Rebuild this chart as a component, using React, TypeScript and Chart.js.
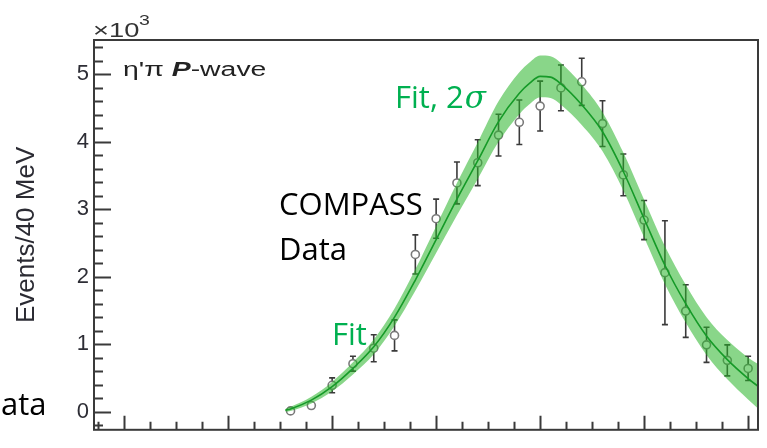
import React, { useEffect, useRef } from "react";
import { Chart, registerables } from "chart.js";

Chart.register(...registerables);

// eta' pi P-wave, COMPASS data (x in GeV, y in units of 10^3 events / 40 MeV)
const massBins = [1.12, 1.16, 1.2, 1.24, 1.28, 1.32, 1.36, 1.4, 1.44, 1.48, 1.52, 1.56, 1.6, 1.64, 1.68, 1.72, 1.76, 1.8, 1.84, 1.88, 1.92, 1.96, 2.0];
const counts = [0.01, 0.09, 0.39, 0.71, 0.94, 1.13, 2.33, 2.86, 3.39, 3.69, 4.1, 4.29, 4.53, 4.8, 4.89, 4.27, 3.51, 2.84, 2.06, 1.49, 0.99, 0.76, 0.64];
const countErrors = [0.03, 0.04, 0.11, 0.11, 0.2, 0.23, 0.29, 0.29, 0.31, 0.34, 0.31, 0.33, 0.37, 0.34, 0.35, 0.34, 0.31, 0.29, 0.77, 0.39, 0.26, 0.23, 0.18];

// fit curve and its 2 sigma band
const fitMass = [1.11, 1.12, 1.16, 1.2, 1.24, 1.28, 1.32, 1.36, 1.4, 1.44, 1.48, 1.52, 1.56, 1.58, 1.6, 1.62, 1.64, 1.68, 1.72, 1.76, 1.8, 1.84, 1.88, 1.92, 1.96, 2.0, 2.02];
const fitValue = [0.02, 0.04, 0.17, 0.37, 0.64, 0.96, 1.4, 1.95, 2.55, 3.15, 3.72, 4.3, 4.72, 4.87, 4.97, 4.96, 4.86, 4.55, 4.15, 3.56, 2.86, 2.17, 1.6, 1.12, 0.77, 0.49, 0.37];
const fitBand = [0.02, 0.03, 0.05, 0.07, 0.09, 0.11, 0.13, 0.16, 0.2, 0.24, 0.27, 0.3, 0.31, 0.31, 0.31, 0.31, 0.31, 0.3, 0.29, 0.28, 0.28, 0.28, 0.28, 0.28, 0.29, 0.31, 0.33];

// axes
const yTickValues = [0, 1, 2, 3, 4, 5];
const yMinorTicks = [-0.2, 0.2, 0.4, 0.6, 0.8, 1.2, 1.4, 1.6, 1.8, 2.2, 2.4, 2.6, 2.8, 3.2, 3.4, 3.6, 3.8, 4.2, 4.4, 4.6, 4.8, 5.2, 5.4];
const xMajorTicks = [0.8, 1.0, 1.2, 1.4, 1.6, 1.8, 2.0];
const xMinorTicks = [0.75, 0.85, 0.9, 0.95, 1.05, 1.1, 1.15, 1.25, 1.3, 1.35, 1.45, 1.5, 1.55, 1.65, 1.7, 1.75, 1.85, 1.9, 1.95];
const xRange = [0.742, 2.019];
const yRange = [-0.27, 5.51];

const HELV = "'Liberation Sans', Arial, sans-serif";
const CAL = "'Open Sans', 'Noto Sans', sans-serif";
const GREEN = "#00b050";

function scaledText(ctx: CanvasRenderingContext2D, text: string, x: number, y: number, font: string, color: string, sx: number) {
  ctx.save();
  ctx.font = font;
  ctx.fillStyle = color;
  ctx.textBaseline = "alphabetic";
  ctx.textAlign = "left";
  ctx.translate(x, y);
  ctx.scale(sx, 1);
  ctx.fillText(text, 0, 0);
  const w = ctx.measureText(text).width * sx;
  ctx.restore();
  return w;
}

const overlayPlugin = {
  id: "overlay",
  beforeDatasetsDraw(chart: any) {
    const { ctx, chartArea, scales } = chart;
    const x = scales.x;
    const y = scales.y;
    ctx.save();
    ctx.beginPath();
    ctx.rect(chartArea.left, chartArea.top, chartArea.right - chartArea.left, chartArea.bottom - chartArea.top);
    ctx.clip();
    ctx.strokeStyle = "#3a3a3a";
    ctx.lineWidth = 1.6;
    massBins.forEach((m, i) => {
      const px = x.getPixelForValue(m);
      const top = y.getPixelForValue(counts[i] + countErrors[i]);
      const bot = y.getPixelForValue(counts[i] - countErrors[i]);
      ctx.beginPath();
      ctx.moveTo(px, top);
      ctx.lineTo(px, bot);
      ctx.moveTo(px - 3, top);
      ctx.lineTo(px + 3, top);
      ctx.moveTo(px - 3, bot);
      ctx.lineTo(px + 3, bot);
      ctx.stroke();
    });
    ctx.restore();
  },
  afterDraw(chart: any) {
    const { ctx, chartArea, scales } = chart;
    const x = scales.x;
    const y = scales.y;
    const { left, right, top, bottom } = chartArea;
    ctx.save();
    // frame
    ctx.strokeStyle = "#3a3a3a";
    ctx.lineWidth = 2;
    ctx.strokeRect(left, top, right - left, bottom - top);
    // y ticks (inward)
    ctx.lineWidth = 2;
    ctx.beginPath();
    yTickValues.forEach((v) => {
      const py = Math.round(y.getPixelForValue(v)) + 0.5;
      ctx.moveTo(left, py);
      ctx.lineTo(left + 17, py);
    });
    yMinorTicks.forEach((v) => {
      const py = Math.round(y.getPixelForValue(v)) + 0.5;
      ctx.moveTo(left, py);
      ctx.lineTo(left + 9, py);
    });
    // x ticks (inward)
    xMajorTicks.forEach((v) => {
      const px = Math.round(x.getPixelForValue(v)) + 0.5;
      ctx.moveTo(px, bottom);
      ctx.lineTo(px, bottom - 14);
    });
    xMinorTicks.forEach((v) => {
      const px = Math.round(x.getPixelForValue(v)) + 0.5;
      ctx.moveTo(px, bottom);
      ctx.lineTo(px, bottom - 8);
    });
    ctx.stroke();
    ctx.restore();

    // exponent label
    scaledText(ctx, "\u00d710", left - 1, top - 3, `21px ${HELV}`, "#333", 1.3);
    scaledText(ctx, "3", left + 45, top - 15, `15px ${HELV}`, "#333", 1.3);

    // panel label
    let px = left + 29;
    const py = top + 36;
    px += scaledText(ctx, "\u03b7'\u03c0 ", px, py, `20px ${HELV}`, "#222", 1.42);
    px += scaledText(ctx, "P", px, py, `italic bold 20px ${HELV}`, "#222", 1.42);
    scaledText(ctx, "-wave", px, py, `20px ${HELV}`, "#222", 1.42);

    // annotations
    ctx.save();
    ctx.textBaseline = "alphabetic";
    ctx.textAlign = "left";
    ctx.font = `31px ${CAL}`;
    ctx.fillStyle = GREEN;
    ctx.fillText("Fit, 2", 395, 108);
    const w = ctx.measureText("Fit, 2").width;
    ctx.font = `italic 31px 'DejaVu Serif', serif`;
    ctx.fillText("\u03c3", 395 + w + 1, 108);
    ctx.font = `31px ${CAL}`;
    ctx.fillText("Fit", 332, 345);
    ctx.fillStyle = "#000";
    ctx.fillText("COMPASS", 279, 215);
    ctx.fillText("Data", 279, 260);
    const dw = ctx.measureText("D").width;
    ctx.fillText("Data", -dw + 1, 415);
    ctx.restore();
  },
};

export default function App() {
  const ref = useRef<HTMLCanvasElement | null>(null);
  useEffect(() => {
    if (!ref.current) return;
    const chart = new Chart(ref.current, {
      type: "line",
      data: {
        datasets: [
          {
            label: "Fit",
            data: fitMass.map((m, i) => ({ x: m, y: fitValue[i] })),
            borderColor: "#169a28",
            borderWidth: 1.6,
            pointRadius: 0,
            cubicInterpolationMode: "monotone",
            fill: false,
            order: 1,
          },
          {
            label: "Fit 2σ upper",
            data: fitMass.map((m, i) => ({ x: m, y: fitValue[i] + fitBand[i] })),
            borderWidth: 0,
            borderColor: "rgba(0,0,0,0)",
            backgroundColor: "rgba(40,180,40,0.55)",
            pointRadius: 0,
            cubicInterpolationMode: "monotone",
            fill: "+1",
            order: 2,
          },
          {
            label: "Fit 2σ lower",
            data: fitMass.map((m, i) => ({ x: m, y: fitValue[i] - fitBand[i] })),
            borderWidth: 0,
            borderColor: "rgba(0,0,0,0)",
            pointRadius: 0,
            cubicInterpolationMode: "monotone",
            fill: false,
            order: 2,
          },
          {
            label: "COMPASS Data",
            data: massBins.map((m, i) => ({ x: m, y: counts[i] })),
            showLine: false,
            pointRadius: 4,
            pointBackgroundColor: "#ffffff",
            pointBorderColor: "#7a7a7a",
            pointBorderWidth: 1.6,
            order: 3,
          },
        ],
      },
      options: {
        animation: false,
        responsive: false,
        layout: { padding: { left: 0, top: 40, right: 9, bottom: 3 } },
        plugins: { legend: { display: false }, tooltip: { enabled: false } },
        scales: {
          x: {
            type: "linear",
            min: xRange[0],
            max: xRange[1],
            display: false,
          },
          y: {
            type: "linear",
            min: yRange[0],
            max: yRange[1],
            grid: { display: false, drawTicks: false },
            border: { display: false },
            afterBuildTicks: (scale: any) => {
              scale.ticks = yTickValues.map((v) => ({ value: v }));
            },
            afterFit: (scale: any) => {
              scale.width = 94;
            },
            ticks: {
              padding: 5,
              color: "#2d2d35",
              font: { family: "'Liberation Sans', Arial, sans-serif", size: 22 },
              callback: (v: any) => String(v),
            },
            title: {
              display: true,
              text: "Events/40 MeV",
              color: "#2b2b33",
              font: { family: "'Liberation Sans', Arial, sans-serif", size: 26 },
              padding: { top: 11, bottom: 0 },
            },
          },
        },
      },
      plugins: [overlayPlugin],
    } as any);
    return () => chart.destroy();
  }, []);
  return (
    <div style={{ position: "fixed", left: 0, top: 0, width: 767, height: 448, background: "#fff" }}>
      <canvas ref={ref} width={767} height={448} style={{ display: "block" }} />
    </div>
  );
}
